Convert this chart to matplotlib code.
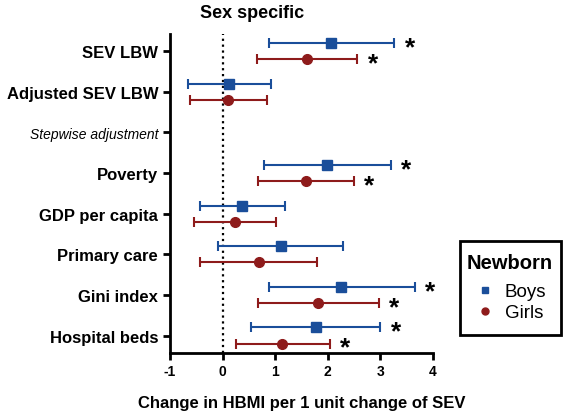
import numpy as np
import matplotlib.pyplot as plt
from matplotlib.lines import Line2D
from matplotlib.patches import Rectangle

plt.rcParams['font.family'] = ['Liberation Sans', 'DejaVu Sans']

labels = ['SEV LBW', 'Adjusted SEV LBW', 'Stepwise adjustment', 'Poverty',
          'GDP per capita', 'Primary care', 'Gini index', 'Hospital beds']

# boys: estimate, lower, upper (nan = empty row)
boys_est = [2.06, 0.13, np.nan, 1.99, 0.38, 1.12, 2.26, 1.78]
boys_lo = [0.88, -0.65, np.nan, 0.79, -0.42, -0.08, 0.88, 0.55]
boys_hi = [3.27, 0.93, np.nan, 3.20, 1.18, 2.30, 3.66, 3.00]
boys_sig = [True, False, False, True, False, False, True, True]

girls_est = [1.61, 0.11, np.nan, 1.59, 0.23, 0.69, 1.82, 1.14]
girls_lo = [0.66, -0.62, np.nan, 0.68, -0.55, -0.43, 0.68, 0.25]
girls_hi = [2.56, 0.84, np.nan, 2.50, 1.02, 1.80, 2.97, 2.04]
girls_sig = [True, False, False, True, False, False, True, True]

blue = '#1a4e9a'
red = '#8e1b1b'

W, H = 567, 414
fig = plt.figure(figsize=(W / 100, H / 100), dpi=100)
ax = fig.add_axes([0.2998, 0.1457, 0.4633, 0.7698])

y = np.arange(len(labels))
off = 0.2

def draw(est, lo, hi, sig, dy, color, marker, ms):
    est = np.array(est); lo = np.array(lo); hi = np.array(hi)
    ok = ~np.isnan(est)
    yy = y[ok] + dy
    ax.errorbar(est[ok], yy, xerr=[est[ok] - lo[ok], hi[ok] - est[ok]],
                fmt=marker, color=color, ms=ms, elinewidth=1.5, capsize=3.8,
                capthick=1.5, zorder=3)
    for i in np.where(ok)[0]:
        if sig[i]:
            ax.text(hi[i] + 0.2, y[i] + dy + 0.1, '*', fontsize=19,
                    fontweight='bold', ha='left', va='center')

draw(boys_est, boys_lo, boys_hi, boys_sig, -off, blue, 's', 6.5)
draw(girls_est, girls_lo, girls_hi, girls_sig, off, red, 'o', 7)

ax.axvline(0, color='black', ls=':', lw=1.6, zorder=1)

ax.set_xlim(-1, 4)
ax.set_ylim(len(labels) - 1 + 0.42, -0.42)
ax.set_yticks(y)
ax.set_yticklabels(labels)
for t in ax.get_yticklabels():
    if t.get_text() == 'Stepwise adjustment':
        t.set_fontstyle('italic')
        t.set_fontweight('normal')
        t.set_fontsize(10)
    else:
        t.set_fontweight('bold')
        t.set_fontsize(12)
ax.set_xticks([-1, 0, 1, 2, 3, 4])
ax.set_xticklabels(['-1', '0', '1', '2', '3', '4'], fontweight='bold', fontsize=10)

for s in ['top', 'right']:
    ax.spines[s].set_visible(False)
for s in ['left', 'bottom']:
    ax.spines[s].set_linewidth(2)
ax.tick_params(width=2, length=5)

ax.set_xlabel('Change in HBMI per 1 unit change of SEV', fontweight='bold',
              fontsize=12, labelpad=12)
fig.text(252 / W, 1 - 13 / H, 'Sex specific', fontweight='bold', fontsize=13,
         ha='center', va='center')

# legend box
fig.patches.append(Rectangle((460 / W, 1 - 336 / H), 101 / W, 94 / H,
                             transform=fig.transFigure, fill=False,
                             edgecolor='black', lw=2))
handles = [Line2D([], [], ls='none', marker='s', color=blue, ms=5),
           Line2D([], [], ls='none', marker='o', color=red, ms=5)]
leg = ax.legend(handles, ['Boys', 'Girls'], loc='upper left',
                bbox_to_anchor=(467 / W, 1 - 254 / H),
                bbox_transform=fig.transFigure, title='Newborn', frameon=False,
                fontsize=13.5, handlelength=1.2, handletextpad=0.45,
                borderpad=0, labelspacing=0.2, borderaxespad=0)
leg.get_title().set_fontweight('bold')
leg.get_title().set_fontsize(14.5)
leg._legend_box.sep = 8

fig.savefig('out.png', dpi=100)
